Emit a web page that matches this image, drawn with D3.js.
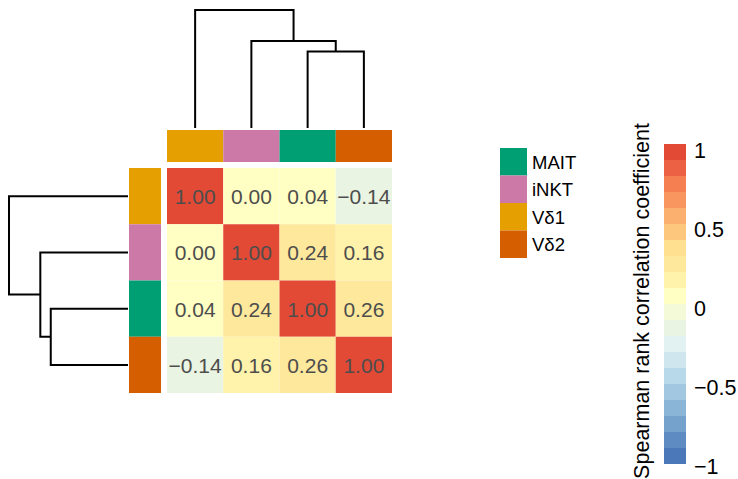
<!DOCTYPE html>
<html>
<head>
<meta charset="utf-8">
<script src="https://cdn.jsdelivr.net/npm/d3@7"></script>
<style>
  body { margin: 0; background: #fff; }
  text { font-family: "Liberation Sans", Arial, Helvetica, sans-serif; }
</style>
</head>
<body>
<div id="chart"></div>
<script>
var svgWidth = 738;
var svgHeight = 479;

// cell types, in clustered order
var cellTypes = ["Vδ1", "iNKT", "MAIT", "Vδ2"];
var legendOrder = ["MAIT", "iNKT", "Vδ1", "Vδ2"];
var cellTypeColors = ["#009E73", "#CC79A7", "#E69F00", "#D55E00"]; // same order as legendOrder

// spearman correlation matrix (rows / cols follow cellTypes)
var corr = [
  [1.00, 0.00, 0.04, -0.14],
  [0.00, 1.00, 0.24, 0.16],
  [0.04, 0.24, 1.00, 0.26],
  [-0.14, 0.16, 0.26, 1.00]
];

// complete linkage tree on 1 - r
var tree = {
  height: 1.14,
  children: [
    { name: "Vδ1", height: 0 },
    { height: 0.84, children: [
      { name: "iNKT", height: 0 },
      { height: 0.74, children: [
        { name: "MAIT", height: 0 },
        { name: "Vδ2", height: 0 }
      ]}
    ]}
  ]
};

var colorTicks = [1, 0.5, 0, -0.5, -1];
var colorTickLabels = ["1", "0.5", "0", "\u22120.5", "\u22121"];

// 20 step palette
var palette = ["#4A78B8", "#5E8CC2", "#74A2CC", "#8BB5D7", "#A1C8E0", "#B8D9E9", "#D0E6EF", "#E2F2F2", "#EAF4E2", "#F4F9D7",
               "#FFFFC4", "#FFF2AA", "#FEE89C", "#FEE090", "#FDC77D", "#FBB070", "#F99660", "#F57F51", "#EC6144", "#E34A36"];

var svg = d3.select("#chart")
  .append("svg")
  .attr("width", svgWidth)
  .attr("height", svgHeight);

var xScale = d3.scaleBand().domain(cellTypes).range([167, 392]);
var yScale = d3.scaleBand().domain(cellTypes).range([168, 393]);
var colorScale = d3.scaleQuantize().domain([-1, 1]).range(palette);
var typeColor = d3.scaleOrdinal().domain(legendOrder).range(cellTypeColors);

// heatmap cells
var cells = [];
corr.forEach(function(row, i) {
  row.forEach(function(v, j) {
    cells.push({ row: cellTypes[i], col: cellTypes[j], value: v });
  });
});

svg.append("g").selectAll("rect")
  .data(cells)
  .enter()
  .append("rect")
  .attr("x", d => xScale(d.col))
  .attr("y", d => yScale(d.row))
  .attr("width", xScale.bandwidth())
  .attr("height", yScale.bandwidth())
  .attr("fill", d => colorScale(d.value));

svg.append("g").selectAll("text")
  .data(cells)
  .enter()
  .append("text")
  .attr("x", d => xScale(d.col) + xScale.bandwidth() / 2)
  .attr("y", d => yScale(d.row) + yScale.bandwidth() / 2)
  .attr("dy", "0.38em")
  .attr("text-anchor", "middle")
  .attr("font-size", 21)
  .attr("fill", "#4D4D4D")
  .text(d => (d.value < 0 ? "\u2212" : "") + Math.abs(d.value).toFixed(2));

// annotation bars
svg.append("g").selectAll("rect")
  .data(cellTypes)
  .enter()
  .append("rect")
  .attr("x", d => xScale(d))
  .attr("y", 130)
  .attr("width", xScale.bandwidth())
  .attr("height", 32)
  .attr("fill", d => typeColor(d));

svg.append("g").selectAll("rect")
  .data(cellTypes)
  .enter()
  .append("rect")
  .attr("x", 129)
  .attr("y", d => yScale(d))
  .attr("width", 32)
  .attr("height", yScale.bandwidth())
  .attr("fill", d => typeColor(d));

// dendrograms
var root = d3.hierarchy(tree);
function place(node, band) {
  if (!node.children) {
    node.pos = band(node.data.name) + band.bandwidth() / 2;
  } else {
    node.children.forEach(c => place(c, band));
    node.pos = d3.mean(node.children, c => c.pos);
  }
}

var topH = d3.scaleLinear().domain([0, tree.height]).range([128, 10]);
var leftH = d3.scaleLinear().domain([0, tree.height]).range([128, 9]);

place(root, xScale);
var topPaths = root.descendants().filter(n => n.children).map(function(n) {
  var a = n.children[0], b = n.children[1];
  return "M" + a.pos + "," + topH(a.data.height) + "V" + topH(n.data.height) +
         "H" + b.pos + "V" + topH(b.data.height);
});
svg.append("g").selectAll("path")
  .data(topPaths)
  .enter()
  .append("path")
  .attr("d", d => d)
  .attr("fill", "none")
  .attr("stroke", "#000")
  .attr("stroke-width", 2);

place(root, yScale);
var leftPaths = root.descendants().filter(n => n.children).map(function(n) {
  var a = n.children[0], b = n.children[1];
  return "M" + leftH(a.data.height) + "," + a.pos + "H" + leftH(n.data.height) +
         "V" + b.pos + "H" + leftH(b.data.height);
});
svg.append("g").selectAll("path")
  .data(leftPaths)
  .enter()
  .append("path")
  .attr("d", d => d)
  .attr("fill", "none")
  .attr("stroke", "#000")
  .attr("stroke-width", 2);

// legend
var legendY = d3.scaleBand().domain(legendOrder).range([148, 258]);
var legend = svg.append("g");
legend.selectAll("rect")
  .data(legendOrder)
  .enter()
  .append("rect")
  .attr("x", 500)
  .attr("y", d => legendY(d))
  .attr("width", 27)
  .attr("height", legendY.bandwidth())
  .attr("fill", d => typeColor(d));
legend.selectAll("text")
  .data(legendOrder)
  .enter()
  .append("text")
  .attr("x", 532)
  .attr("y", d => legendY(d) + legendY.bandwidth() / 2)
  .attr("dy", "0.37em")
  .attr("font-size", 18.5)
  .attr("fill", "#000")
  .text(d => d);

// colour bar
var barY = d3.scaleLinear().domain([-1, 1]).range([464, 144]);
var step = 2 / palette.length;
svg.append("g").selectAll("rect")
  .data(palette)
  .enter()
  .append("rect")
  .attr("x", 664)
  .attr("y", (d, i) => barY(-1 + (i + 1) * step))
  .attr("width", 22)
  .attr("height", (d, i) => barY(-1 + i * step) - barY(-1 + (i + 1) * step))
  .attr("fill", d => d);

var labelY = d3.scaleLinear().domain([-1, 1]).range([466, 150]);
svg.append("g").selectAll("text")
  .data(colorTicks)
  .enter()
  .append("text")
  .attr("x", 694)
  .attr("y", d => labelY(d))
  .attr("dy", "0.36em")
  .attr("font-size", 21.5)
  .attr("fill", "#000")
  .text((d, i) => colorTickLabels[i]);

svg.append("text")
  .attr("transform", "translate(649, 301) rotate(-90)")
  .attr("text-anchor", "middle")
  .attr("font-size", 21.5)
  .attr("fill", "#000")
  .text("Spearman rank correlation coefficient");
</script>
</body>
</html>
